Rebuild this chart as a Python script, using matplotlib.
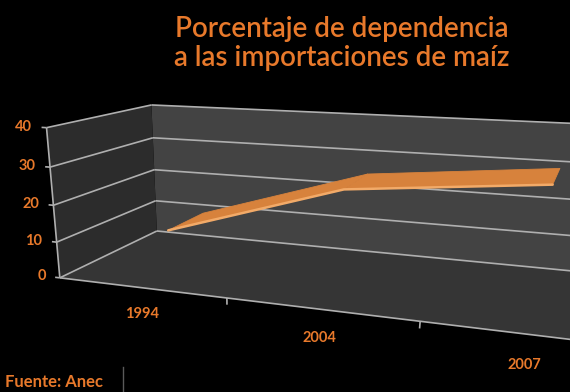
import matplotlib
matplotlib.use('Agg')
import matplotlib.pyplot as plt
from mpl_toolkits.mplot3d.art3d import Poly3DCollection, Line3DCollection
import numpy as np

# ---- data ----
years = ['1994', '2004', '2007']
values = [11.5, 26.3, 30.9]
value_ticks = [0, 10, 20, 30, 40]
title_lines = ['Porcentaje de dependencia', 'a las importaciones de maíz']
source = 'Fuente: Anec'

# ---- style / camera ----
ORANGE = '#E8792B'
GRID = '#AFAFAF'
FIG_W, FIG_H = 570, 392
CAM = np.array([136.3, -202.75, 70.07])   # camera position (physical units)
UNIT = np.array([49.92, 58.65, 1.0])      # physical size of one data unit (x, y, z)
ELEV, AZIM = 23.51, -68.60
F_PX = 895.7                               # focal length in pixels
PP = (252.0, 390.0)                        # principal point (px from top-left)
DIST = 250.0
HALF = 100.0

fig = plt.figure(figsize=(FIG_W / 100, FIG_H / 100), dpi=100, facecolor='black')
ax = fig.add_axes([0, 0, 1, 1], projection='3d')
ax.set_facecolor('black')
ax.axis('off')
ax.computed_zorder = False

xc = np.arange(len(years)) + 0.5
ncat = len(years)
zmax = value_ticks[-1]

# walls and floor
left_wall = [[(0, 0, 0), (0, 1, 0), (0, 1, zmax), (0, 0, zmax)]]
back_wall = [[(0, 1, 0), (ncat, 1, 0), (ncat, 1, zmax), (0, 1, zmax)]]
floor = [[(0, 0, 0), (ncat, 0, 0), (ncat, 1, 0), (0, 1, 0)]]
ax.add_collection3d(Poly3DCollection(back_wall, facecolor='#434343', edgecolor='none', zorder=1))
ax.add_collection3d(Poly3DCollection(left_wall, facecolor='#2C2C2C', edgecolor='none', zorder=1))
ax.add_collection3d(Poly3DCollection(floor, facecolor='#353535', edgecolor='none', zorder=1))

# gridlines
segs = []
for v in value_ticks:
    segs.append([(0, 0, v), (0, 1, v)])
    segs.append([(0, 1, v), (ncat, 1, v)])
ax.add_collection3d(Line3DCollection(segs, colors=GRID, linewidths=1.2, zorder=2))

# axis edges and ticks
edges = [[(0, 0, 0), (0, 0, zmax)], [(0, 0, 0), (ncat, 0, 0)]]
for v in value_ticks:
    edges.append([(0, 0, v), (-0.03, 0, v)])
for b in range(1, ncat):
    edges.append([(b, 0, 0), (b, 0, -1.8)])
ax.add_collection3d(Line3DCollection(edges, colors=GRID, linewidths=1.2, zorder=4))

# ribbon
y0, y1 = 0.30, 0.70
polys = []
for i in range(ncat - 1):
    polys.append([(xc[i], y0, values[i]), (xc[i + 1], y0, values[i + 1]),
                  (xc[i + 1], y1, values[i + 1]), (xc[i], y1, values[i])])
ax.add_collection3d(Poly3DCollection(polys, facecolor='#D7823C', edgecolor='#D7823C',
                                     linewidths=0.6, zorder=3))
ax.plot(xc, [y0] * ncat, values, color='#F2AA68', lw=1.8, zorder=3.5,
        solid_capstyle='round')

# ---- camera setup: look-at point and axes placement ----
e, a = np.radians(ELEV), np.radians(AZIM)
view_dir = np.array([np.cos(e) * np.cos(a), np.cos(e) * np.sin(a), np.sin(e)])
center = (CAM - DIST * view_dir) / UNIT
half = HALF / UNIT
ax.set_xlim(center[0] - half[0], center[0] + half[0])
ax.set_ylim(center[1] - half[1], center[1] + half[1])
ax.set_zlim(center[2] - half[2], center[2] + half[2])
ax.view_init(elev=ELEV, azim=AZIM)
ax.set_box_aspect((1, 1, 1))
k = ax._box_aspect[0] / (2 * HALF)
dist = getattr(ax, '_dist', 10)
f = k * DIST / dist
ax.set_proj_type('persp', focal_length=f)
vx0, vx1 = ax.viewLim.intervalx
vy0, vy1 = ax.viewLim.intervaly
w_px = F_PX * (vx1 - vx0) / f
left = PP[0] - (0 - vx0) / (vx1 - vx0) * w_px
bottom = (FIG_H - PP[1]) - (0 - vy0) / (vy1 - vy0) * w_px
ax.set_position([left / FIG_W, bottom / FIG_H, w_px / FIG_W, w_px / FIG_H])

# ---- tick labels (projected through the 3D axes' own projection) ----
M = ax.get_proj()


def label3d(x, y, z, s, **kw):
    p = M @ np.array([x, y, z, 1.0])
    ax.text2D(p[0] / p[3], p[1] / p[3], s, transform=ax.transData, zorder=5, **kw)


for v in value_ticks:
    label3d(-0.09, 0, v, str(v), color=ORANGE, fontsize=10.5, fontweight='bold',
            ha='right', va='center', family='Lato')
for x, s in zip(xc, years):
    label3d(x, 0, -7.5, s, color=ORANGE, fontsize=10.5, fontweight='bold',
            ha='center', va='center', family='Lato')

# ---- texts ----
fig.text(0.5995, 0.9064, title_lines[0], color=ORANGE, fontsize=20, family='Lato',
         fontweight='semibold', ha='center', va='baseline')
fig.text(0.5995, 0.8316, title_lines[1], color=ORANGE, fontsize=20, family='Lato',
         fontweight='semibold', ha='center', va='baseline')
fig.text(0.009, 0.0255, source, color=ORANGE, fontsize=12, fontweight='bold', family='Lato',
         ha='left', va='center')
fig.add_artist(plt.Line2D([0.2153, 0.2153], [0.0, 0.064], color='#5A5A5A', lw=1.0))

fig.savefig('out.png', dpi=100, facecolor='black')
